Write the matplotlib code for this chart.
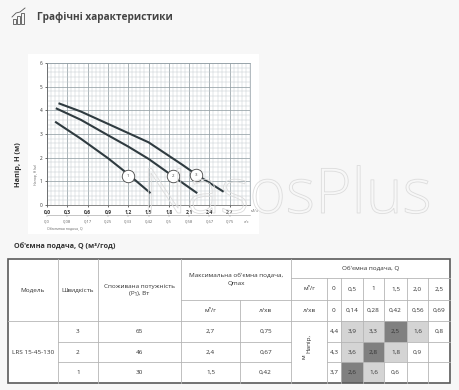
import numpy as np
import matplotlib.pyplot as plt
import matplotlib.patheffects as pe
from matplotlib.patches import Rectangle
from matplotlib.ticker import MultipleLocator

plt.rcParams['font.family'] = ['Open Sans', 'DejaVu Sans']

W, H = 459, 390

# curves (Q in m3/h, H in m)
q1 = [0.12, 0.5, 0.9, 1.2, 1.53]
h1 = [3.52, 2.8, 1.98, 1.3, 0.5]
q2 = [0.13, 0.5, 0.9, 1.2, 1.5, 1.86, 2.22]
h2 = [4.09, 3.6, 2.95, 2.47, 1.95, 1.22, 0.5]
q3 = [0.17, 0.5, 1.0, 1.5, 2.0, 2.2, 2.61]
h3 = [4.3, 3.95, 3.3, 2.65, 1.7, 1.3, 0.56]
curve_tags = ['1', '2', '3']
tag_q = [1.2, 1.86, 2.2]
tag_h = [1.24, 1.22, 1.27]

x_ticks = [0.0, 0.3, 0.6, 0.9, 1.2, 1.5, 1.8, 2.1, 2.4, 2.7]
x_labels = ['0,0', '0,3', '0,6', '0,9', '1,2', '1,5', '1,8', '2,1', '2,4', '2,7']
ls_labels = ['0,0', '0,08', '0,17', '0,25', '0,33', '0,42', '0,5', '0,58', '0,67', '0,75']

# table data
model = 'LRS 15-45-130'
speeds = ['3', '2', '1']
power = ['65', '46', '30']
qmax_m3 = ['2,7', '2,4', '1,5']
qmax_ls = ['0,75', '0,67', '0,42']
q_m3 = ['0', '0,5', '1', '1,5', '2,0', '2,5']
q_ls = ['0', '0,14', '0,28', '0,42', '0,56', '0,69']
heads = [['4,4', '3,9', '3,3', '2,5', '1,6', '0,8'],
         ['4,3', '3,6', '2,8', '1,8', '0,9', ''],
         ['3,7', '2,6', '1,6', '0,6', '', '']]
shade = [['', 'L', 'L', 'D', 'L', ''],
         ['', 'L', 'D', 'L', '', ''],
         ['', 'D', 'L', '', '', '']]


def box(x0, y0, x1, y1):
    return [x0 / W, 1 - y1 / H, (x1 - x0) / W, (y1 - y0) / H]


fig = plt.figure(figsize=(W / 100, H / 100), dpi=100, facecolor='#f7f7f7')

bg = fig.add_axes([0, 0, 1, 1], zorder=0)
bg.set_xlim(0, W)
bg.set_ylim(H, 0)
bg.axis('off')

# title + icon
bg.text(37, 17, 'Графічні характеристики', fontsize=7.3, fontweight='bold',
        color='#444444', va='center', ha='left')
for bx, bh in [(13, 5), (17, 8), (21, 11)]:
    bg.add_patch(Rectangle((bx, 24 - bh), 3, bh, fill=False, ec='#555555', lw=0.6))
bg.plot([12, 16, 20, 25], [17, 13, 12, 8], color='#555555', lw=0.6)

# white panel for the chart
bg.add_patch(Rectangle((28, 54), 231, 180, color='white', lw=0))
bg.text(18, 165, 'Напір, Н (м)', rotation=90, fontsize=5.3, fontweight='bold',
        color='#333333', ha='center', va='center')
bg.text(14, 247, "Об'ємна подача, Q (м³/год)", fontsize=5.2, fontweight='bold',
        color='#333333', ha='left', va='center')
bg.text(36, 175, 'Напор, H (м)', rotation=90, fontsize=2.5, color='#666666',
        ha='center', va='center')
bg.text(47, 228, 'Объемная подача, Q', fontsize=2.5, color='#666666',
        ha='left', va='center')
bg.text(255, 211, 'м³/ч', fontsize=2.8, color='#666666', ha='center', va='center')
bg.text(247, 222, 'л/с', fontsize=2.8, color='#666666', ha='center', va='center')

# chart
ax = fig.add_axes(box(47, 63, 250, 205), zorder=1)
ax.set_facecolor('white')
ax.set_xlim(0, 3.0)
ax.set_ylim(0, 6)
ax.xaxis.set_major_locator(MultipleLocator(0.3))
ax.xaxis.set_minor_locator(MultipleLocator(0.06))
ax.yaxis.set_major_locator(MultipleLocator(1))
ax.yaxis.set_minor_locator(MultipleLocator(0.2))
ax.grid(which='major', color='#94a0a6', lw=0.55)
ax.grid(which='minor', color='#c4ccd0', lw=0.35)
ax.set_axisbelow(True)
for s in ax.spines.values():
    s.set_color('#94a0a6')
    s.set_linewidth(0.5)
ax.spines['left'].set_color('#555555')
ax.spines['bottom'].set_color('#555555')
ax.set_xticks(x_ticks)
ax.set_xticklabels(x_labels)
ax.tick_params(axis='x', which='major', length=1.5, width=0.4, pad=2,
               labelsize=3.6, labelcolor='#333333')
for t in ax.get_xticklabels():
    t.set_fontweight('bold')
ax.tick_params(axis='y', which='major', length=1.5, width=0.4, pad=2,
               labelsize=3.4, labelcolor='#333333')
ax.tick_params(which='minor', length=0)

line_col = '#2f3b40'
for q, h in [(q1, h1), (q2, h2), (q3, h3)]:
    ax.plot(q, h, color=line_col, lw=1.5, solid_capstyle='butt', zorder=3)
ax.plot(tag_q, tag_h, 'o', ms=9, mfc='white', mec='#444444', mew=0.6,
        ls='none', zorder=4)
for t, q, h in zip(curve_tags, tag_q, tag_h):
    ax.text(q, h, t, fontsize=3.2, color='#444444', ha='center', va='center', zorder=5)

sec = ax.secondary_xaxis(-0.07)
sec.set_xticks(x_ticks)
sec.set_xticklabels(ls_labels)
sec.spines['bottom'].set_color('#999999')
sec.spines['bottom'].set_linewidth(0.4)
sec.tick_params(length=1.5, width=0.3, pad=1.5, labelsize=3, labelcolor='#666666',
                color='#999999')

# table
cols = [8, 58, 98, 181, 240, 291, 327, 341, 363, 384, 407, 428, 450]
rows = [259, 278, 300, 321, 342, 362, 383]
fs = 4.6
tc = '#333333'
inner = dict(color='#b5b5b5', lw=0.6)

bg.add_patch(Rectangle((cols[0], rows[0]), cols[-1] - cols[0], rows[-1] - rows[0],
                       color='white', lw=0))
for r in range(3):
    for c in range(6):
        if shade[r][c]:
            fc = '#d4d4d4' if shade[r][c] == 'L' else '#808080'
            bg.add_patch(Rectangle((cols[6 + c], rows[3 + r]), cols[7 + c] - cols[6 + c],
                                   rows[4 + r] - rows[3 + r], color=fc, lw=0))

# vertical lines
for x in cols[1:4]:
    bg.plot([x, x], [rows[0], rows[-1]], **inner)
bg.plot([cols[4], cols[4]], [rows[2], rows[-1]], **inner)
bg.plot([cols[5], cols[5]], [rows[0], rows[-1]], **inner)
for x in cols[6:12]:
    bg.plot([x, x], [rows[1], rows[-1]], **inner)
# horizontal lines
bg.plot([cols[3], cols[5]], [rows[2], rows[2]], **inner)
bg.plot([cols[5], cols[-1]], [rows[1], rows[1]], **inner)
bg.plot([cols[5], cols[-1]], [rows[2], rows[2]], **inner)
bg.plot([cols[0], cols[-1]], [rows[3], rows[3]], **inner)
for y in rows[4:6]:
    bg.plot([cols[1], cols[5]], [y, y], **inner)
    bg.plot([cols[6], cols[-1]], [y, y], **inner)
bg.add_patch(Rectangle((cols[0], rows[0]), cols[-1] - cols[0], rows[-1] - rows[0],
                       fill=False, ec='#5a5a5a', lw=1.2))


def cell(x0, x1, y0, y1, s, **kw):
    bg.text((x0 + x1) / 2, (y0 + y1) / 2, s, fontsize=fs, color=tc,
            ha='center', va='center', **kw)


cell(cols[0], cols[1], rows[0], rows[3], 'Модель')
cell(cols[1], cols[2], rows[0], rows[3], 'Швидкість')
cell(cols[2], cols[3], rows[0], rows[3], 'Споживана потужність\n(P₁), Вт', linespacing=1.6)
cell(cols[3], cols[5], rows[0], rows[2], "Максимальна об'ємна подача,\nQmax", linespacing=1.6)
cell(cols[3], cols[4], rows[2], rows[3], 'м³/г')
cell(cols[4], cols[5], rows[2], rows[3], 'л/хв')
cell(cols[5], cols[-1], rows[0], rows[1], "Об'ємна подача, Q")
cell(cols[5], cols[6], rows[1], rows[2], 'м³/г')
cell(cols[5], cols[6], rows[2], rows[3], 'л/хв')
for i in range(6):
    cell(cols[6 + i], cols[7 + i], rows[1], rows[2], q_m3[i])
    cell(cols[6 + i], cols[7 + i], rows[2], rows[3], q_ls[i])
cell(cols[0], cols[1], rows[3], rows[6], model)
for r in range(3):
    y0, y1 = rows[3 + r], rows[4 + r]
    cell(cols[1], cols[2], y0, y1, speeds[r])
    cell(cols[2], cols[3], y0, y1, power[r])
    cell(cols[3], cols[4], y0, y1, qmax_m3[r])
    cell(cols[4], cols[5], y0, y1, qmax_ls[r])
    for c in range(6):
        cell(cols[6 + c], cols[7 + c], y0, y1, heads[r][c])
bg.text(309, 343, 'Напір,', rotation=90, fontsize=fs, color=tc, ha='center', va='center')
bg.text(304, 357, 'м', rotation=90, fontsize=fs, color=tc, ha='center', va='center')

# watermark
top = fig.add_axes([0, 0, 1, 1], zorder=5)
top.set_xlim(0, W)
top.set_ylim(H, 0)
top.axis('off')
top.patch.set_alpha(0)
top.text(142, 213, 'NasosPlus', fontsize=45, fontweight='light', color='none',
         ha='left', va='baseline',
         path_effects=[pe.withStroke(linewidth=0.6, foreground='#dcdcdc')])

fig.savefig('out.png', dpi=100, facecolor=fig.get_facecolor())
